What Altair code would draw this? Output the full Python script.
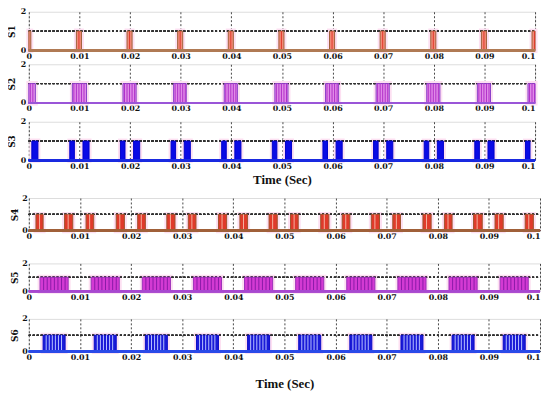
import altair as alt
import pandas as pd

XTICKS = [0, 0.01, 0.02, 0.03, 0.04, 0.05, 0.06, 0.07, 0.08, 0.09, 0.1]

# on-intervals (s)
S1_start = [0.0000, 0.0094, 0.0194, 0.0294, 0.0394, 0.0494, 0.0594, 0.0694, 0.0794, 0.0894, 0.0994]
S1_end   = [0.0004, 0.0104, 0.0204, 0.0304, 0.0404, 0.0504, 0.0604, 0.0704, 0.0804, 0.0904, 0.1000]

S2_start = [0.0000, 0.0086, 0.0186, 0.0286, 0.0386, 0.0486, 0.0586, 0.0686, 0.0786, 0.0886, 0.0986]
S2_end   = [0.0013, 0.0114, 0.0212, 0.0311, 0.0412, 0.0512, 0.0612, 0.0712, 0.0812, 0.0912, 0.1000]

S3_start = [0.0006, 0.0081, 0.0107, 0.0181, 0.0207, 0.0281, 0.0307, 0.0381, 0.0407, 0.0481,
            0.0507, 0.0581, 0.0607, 0.0681, 0.0707, 0.0781, 0.0807, 0.0881, 0.0907, 0.0981]
S3_end   = [0.0018, 0.0090, 0.0119, 0.0190, 0.0219, 0.0290, 0.0319, 0.0390, 0.0419, 0.0490,
            0.0519, 0.0590, 0.0619, 0.0690, 0.0719, 0.0790, 0.0819, 0.0890, 0.0919, 0.0990]

S4_start = [0.0014, 0.0070, 0.0112, 0.0171, 0.0213, 0.0270, 0.0312, 0.0371, 0.0413, 0.0470,
            0.0512, 0.0571, 0.0613, 0.0670, 0.0712, 0.0771, 0.0813, 0.0870, 0.0912, 0.0971]
S4_end   = [0.0028, 0.0086, 0.0127, 0.0187, 0.0228, 0.0286, 0.0327, 0.0387, 0.0428, 0.0486,
            0.0527, 0.0587, 0.0628, 0.0686, 0.0727, 0.0787, 0.0828, 0.0887, 0.0928, 0.0987]

S5_start = [0.0022, 0.0122, 0.0222, 0.0322, 0.0422, 0.0522, 0.0622, 0.0722, 0.0822, 0.0922]
S5_end   = [0.0077, 0.0177, 0.0277, 0.0377, 0.0477, 0.0577, 0.0677, 0.0777, 0.0877, 0.0977]

S6_start = [0.0028, 0.0128, 0.0228, 0.0328, 0.0428, 0.0528, 0.0628, 0.0728, 0.0828, 0.0928]
S6_end   = [0.0071, 0.0171, 0.0271, 0.0371, 0.0471, 0.0571, 0.0671, 0.0771, 0.0871, 0.0971]

# offsets of the switching edges inside one on-interval (s)
S1_sub = [0.0005]
S2_sub = [0.0003, 0.0008, 0.0013, 0.0018, 0.0023]
S3_sub = []
S4_sub = [0.0007]
S5_sub = [0.0007, 0.0014, 0.0021, 0.0028, 0.0035, 0.0042, 0.0049]
S6_sub = [0.0006, 0.0012, 0.0018, 0.0024, 0.0030, 0.0036]

SERIF = "DejaVu Serif"
GRID = "#333333"


def panel(name, starts, ends, subs, fill, edge, inner, base, width, height,
          xtitle=None, xtitle_pad=6, label_pad=3, title_pad=4):
    rects = pd.DataFrame({"s": starts, "e": ends})
    lines = pd.DataFrame({"x": [s + o for s, e in zip(starts, ends) for o in subs if s + o < e]})
    xs = alt.Scale(domain=[0, 0.1], nice=False, zero=False)
    ys = alt.Scale(domain=[0, 2], nice=False)
    xaxis = alt.Axis(values=XTICKS, format="~g", grid=True, gridDash=[2, 2], gridColor=GRID,
                     gridOpacity=0.9, domain=False, ticks=False, labelPadding=2,
                     labelFont=SERIF, labelFontSize=8, labelFontWeight="bold", labelColor="#111",
                     labelFlush=False,
                     labelAlign={"condition": {"test": "datum.value > 0.095", "value": "right"},
                                 "value": "center"},
                     title=xtitle, titleFont="Liberation Serif", titleFontSize=13,
                     titleFontWeight="bold", titlePadding=xtitle_pad, titleColor="#111")
    yaxis = alt.Axis(values=[0, 1, 2], grid=False, domain=False, ticks=False,
                     labelPadding=label_pad, labelFont=SERIF, labelFontSize=8,
                     labelFontWeight="bold", labelColor="#111", title=name,
                     titleFont=SERIF, titleFontSize=9, titleFontWeight="bold",
                     titlePadding=title_pad, titleColor="#111")
    halo = alt.Chart(rects).mark_rect(fill="#fde0f2", stroke="#fde0f2", strokeWidth=5).encode(
        x=alt.X("s:Q", scale=xs, axis=xaxis), x2="e:Q",
        y=alt.Y(datum=0, scale=ys, axis=yaxis), y2=alt.datum(1.0),
    )
    hline = alt.Chart(rects).mark_rule(strokeDash=[2, 2], color=GRID, strokeWidth=1).encode(
        x=alt.datum(0), x2=alt.datum(0.1), y=alt.datum(1)
    )
    bars = alt.Chart(rects).mark_rect(fill=fill, stroke=edge, strokeWidth=1).encode(
        x="s:Q", x2="e:Q", y=alt.datum(0), y2=alt.datum(1.0)
    )
    baseline = alt.Chart(rects).mark_rule(color=base, strokeWidth=2).encode(
        x=alt.datum(0), x2=alt.datum(0.1), y=alt.datum(0)
    )
    layers = [halo, hline, bars]
    if len(lines):
        layers.append(alt.Chart(lines).mark_rule(color=inner, strokeWidth=1).encode(
            x="x:Q", y=alt.datum(0), y2=alt.datum(1.0)))
    layers.append(baseline)
    return alt.layer(*layers).properties(width=width, height=height)


TW, BW = 511, 516
p1 = panel("S1", S1_start, S1_end, S1_sub, "#f28a78", "#a0603a", "#e03a2a", "#b07a55", TW, 39)
p2 = panel("S2", S2_start, S2_end, S2_sub, "#e08ae8", "#8a3fc8", "#b030c8", "#9a55d8", TW, 39)
p3 = panel("S3", S3_start, S3_end, S3_sub, "#0a0ae6", "#0000cc", "#0000cc", "#1a2ae0", TW, 39,
           xtitle="Time (Sec)", xtitle_pad=3)
p4 = panel("S4", S4_start, S4_end, S4_sub, "#e03a2a", "#a0522d", "#f4b0a0", "#a0603a", BW, 33,
           label_pad=1.5, title_pad=2)
p5 = panel("S5", S5_start, S5_end, S5_sub, "#d33ad3", "#9a30b8", "#8a1aa8", "#a848d0", BW, 28,
           label_pad=1.5, title_pad=2)
p6 = panel("S6", S6_start, S6_end, S6_sub, "#1a1ad8", "#0a0ac8", "#b8c0ff", "#2a4ae8", BW, 33,
           xtitle="Time (Sec)", xtitle_pad=16, label_pad=1.5, title_pad=2)

top = alt.vconcat(p1, alt.vconcat(p2, p3, spacing=3), spacing=-2)
bottom = alt.vconcat(alt.vconcat(p4, p5, spacing=17), p6, spacing=12)

chart = alt.vconcat(top, bottom, spacing=6).properties(
    padding={"left": -2, "top": -3, "right": 0, "bottom": 0}
).configure_view(stroke="#7a7a7a", strokeWidth=1).configure(background="white")

chart.save("out.html", embed_options={"renderer": "svg", "actions": False})
